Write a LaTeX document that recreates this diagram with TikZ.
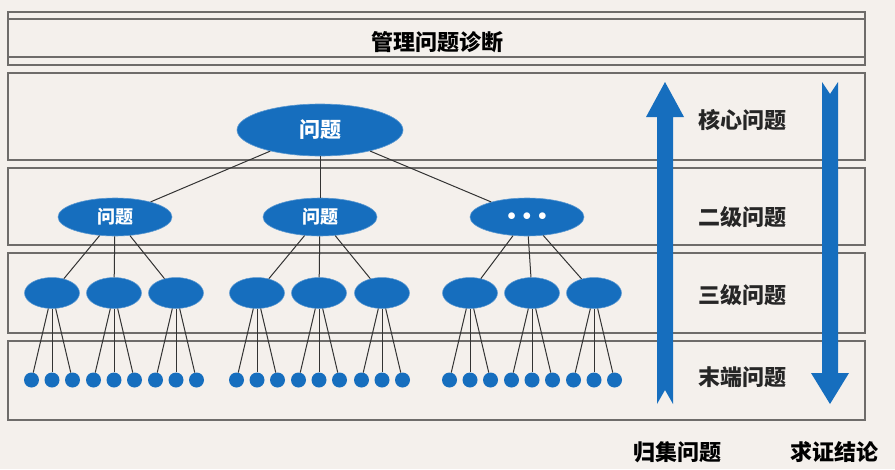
\documentclass[tikz,border=0pt]{standalone}
\usepackage{fontspec}
\newfontfamily\cjk{Noto Sans CJK SC}
\usetikzlibrary{shapes.geometric}
\definecolor{bg}{RGB}{244,240,236}
\definecolor{nodeblue}{RGB}{22,110,190}
\definecolor{frame}{RGB}{110,108,106}
\tikzset{
  band/.style={draw=frame,line width=1.3pt},
  bigell/.style={ellipse,fill=nodeblue,draw=nodeblue!70!white,line width=0.6pt,inner sep=0pt,text=white,font=\cjk\bfseries\fontsize{21}{21}\selectfont},
  midell/.style={ellipse,fill=nodeblue,draw=nodeblue!70!white,line width=0.6pt,inner sep=0pt,minimum width=114pt,minimum height=38pt,text=white,font=\cjk\bfseries\fontsize{18}{18}\selectfont},
  smallell/.style={ellipse,fill=nodeblue,draw=nodeblue!70!white,line width=0.5pt,inner sep=0pt,minimum width=55pt,minimum height=31pt},
  leaf/.style={circle,fill=nodeblue,inner sep=0pt,minimum size=15pt},
  link/.style={draw=black!80,line width=1pt},
  lvl/.style={font=\cjk\bfseries\fontsize{22}{22}\selectfont,text=black!85},
  bottomlbl/.style={font=\cjk\bfseries\fontsize{22}{22}\selectfont,text=black},
  bigarrow/.style={fill=nodeblue,draw=none}
}
\begin{document}
\begin{tikzpicture}[x=1pt,y=-1pt]
\fill[bg] (0,0) rectangle (895,469);
\useasboundingbox (0,0) rectangle (895,469);
% bands
\draw[band] (8,12) rectangle (865,65);
\draw[band] (8,19) -- (865,19);
\draw[band] (8,57) -- (865,57);
\draw[band] (8,73) rectangle (865,160);
\draw[band] (8,168) rectangle (865,245);
\draw[band] (8,253) rectangle (865,333);
\draw[band] (8,341) rectangle (865,420);
\node[font=\cjk\bfseries\fontsize{22}{22}\selectfont] (title) at (437,42) {管理问题诊断};
% top
\node[bigell,minimum width=166pt,minimum height=52pt] (top) at (320,130) {问题};
\node[midell] (m1) at (115,217) {问题};
\node[midell] (m2) at (320,217) {问题};
\node[midell] (m3) at (527,217) {$\bullet\mkern3mu\bullet\mkern3mu\bullet$};
\foreach \m in {m1,m2,m3} \draw[link] (top) -- (\m);
% level 3
\foreach \i/\x/\p in {1/52/m1,2/114/m1,3/176/m1,4/257/m2,5/319/m2,6/382/m2,7/470/m3,8/532/m3,9/594/m3}{
  \node[smallell] (s\i) at (\x,293) {};
  \draw[link] (\p) -- (s\i);
  \foreach \k/\dx in {a/-20.5,b/0,c/20.5}{
    \node[leaf] (l\i\k) at (\x+\dx,380) {};
    \draw[link] (s\i) -- (l\i\k);
  }
}
% arrows
\fill[bigarrow] (665,82) -- (684,117) -- (673,117) -- (673,404) -- (665,390) -- (657,404) -- (657,117) -- (646,117) -- cycle;
\fill[bigarrow] (822,82) -- (830,94) -- (838,82) -- (838,373) -- (849,373) -- (830,404) -- (811,373) -- (822,373) -- cycle;
% labels
\node[lvl] (t1) at (742,120) {核心问题};
\node[lvl] (t2) at (742,217) {二级问题};
\node[lvl] (t3) at (742,295) {三级问题};
\node[lvl] (t4) at (742,377) {末端问题};
\node[bottomlbl] (b1) at (677,452) {归集问题};
\node[bottomlbl] (b2) at (834,452) {求证结论};
\end{tikzpicture}
\end{document}
